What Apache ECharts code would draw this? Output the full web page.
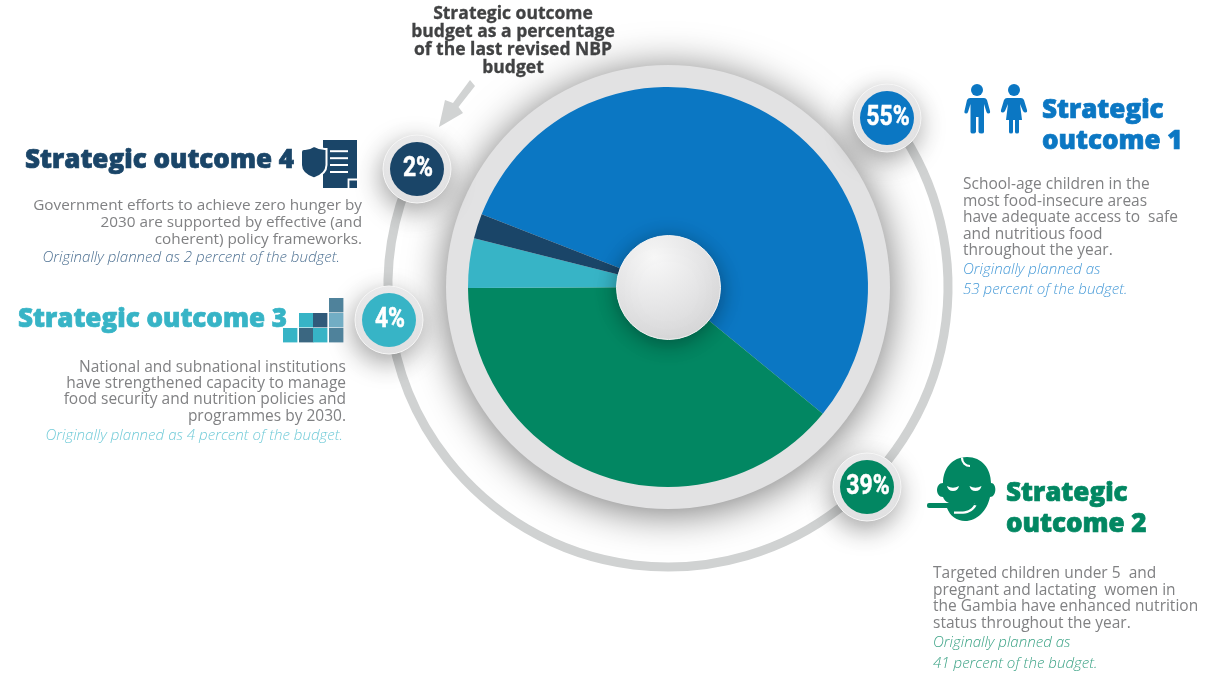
<!DOCTYPE html>
<html>
<head>
<meta charset="utf-8">
<style>html,body{margin:0;padding:0;background:#fff}#chart{width:1208px;height:675px}</style>
<script src="https://cdn.jsdelivr.net/npm/echarts@6/dist/echarts.min.js"></script>
</head>
<body>
<div id="chart"></div>
<script>
// Budget shares by strategic outcome, in percent of the last revised NBP budget
const categories = ['Strategic outcome 1', 'Strategic outcome 2', 'Strategic outcome 3', 'Strategic outcome 4'];
const budgetShares = [55, 39, 4, 2];
const plannedShares = [53, 41, 4, 2];
const outcomeColors = ['#0b77c3', '#028762', '#37b4c6', '#1a4568'];
const plannedColors = ['#4a9cd8', '#3ea487', '#72cbd8', '#4f7293'];

const titleLines = ['Strategic outcome', 'budget as a percentage', 'of the last revised NBP', 'budget'];
const body1 = ['School-age children in the', 'most food-insecure areas', 'have adequate access to  safe', 'and nutritious food', 'throughout the year.'];
const body2 = ['Targeted children under 5  and', 'pregnant and lactating  women in', 'the Gambia have enhanced nutrition', 'status throughout the year.'];
const body3 = ['National and subnational institutions', 'have strengthened capacity to manage', 'food security and nutrition policies and', 'programmes by 2030.'];
const body4 = ['Government efforts to achieve zero hunger by', '2030 are supported by effective (and', 'coherent) policy frameworks.'];

const CX = 668, CY = 287;
const chart = echarts.init(document.getElementById('chart'), null, {renderer: 'canvas'});
const deg = d => d * Math.PI / 180;

// Custom outline shapes for the outcome icons
function shape(name, d) { echarts.graphic.registerShape(name, echarts.graphic.extendPath(d, {})); }
shape('boyBody', 'M970 98 H984 Q986 98 987 100 L990 111 Q990.5 113.5 988.5 113.5 Q987 113.5 986.5 112 L984 104 V132 Q984 133.5 981.5 133.5 Q979 133.5 978.5 132 V117 H976 V132 Q975.5 133.5 973 133.5 Q970.5 133.5 970.5 132 V104 L968 112 Q967.5 113.5 966 113.5 Q964 113.5 964.5 111 L967 100 Q968 98 970 98Z');
shape('girlBody', 'M1007 98 H1021 Q1023 98 1024 100 L1027 110 Q1027.5 112.5 1025.5 112.5 Q1024 112.5 1023 111 L1020 104 L1022 120 H1019 V132 Q1019 133.5 1017 133.5 Q1015 133.5 1015 132 V120 H1013 V132 Q1013 133.5 1011 133.5 Q1009 133.5 1009 132 V120 H1006 L1008 104 L1005 111 Q1004 112.5 1002.5 112.5 Q1000.5 112.5 1001 110 L1004 100 Q1005 98 1007 98Z');
shape('babyHead', 'M967 457 C982 457 991 469 991 483 C997 483 997 497 990 497 C987 511 977 521 965 521 C957 521 950 516 947 508 L975 508 L975 503 L949 503 C946 502 944 500 943 497 C935 497 935 483 943 483 C943 469 952 457 967 457Z');
shape('babyHook', 'M954 511.5 L961 511.5 C966 511.5 971 510 974 505 L976.5 505.5 C973 512 967 513.8 961 513.8 L954 513.8 Z');
shape('eyeCurve', 'M0 0 Q6 3.5 12 0 Q11 5 6 5 Q1 5 0 0Z');
shape('shield', 'M314 146 Q320 149.5 326.5 149 V165 Q326.5 174 314 178.5 Q301 174 301 165 V152 Q301 149 304 149 Q309 149.5 314 146Z');

const texts = [];
function addText(text, x, y, font, fill, align, extra) {
  const style = {text, x: 0, y: 0, font, fill, textAlign: align || 'left', align: align || 'left', textVerticalAlign: 'middle', verticalAlign: 'middle'};
  Object.assign(style, (extra && extra.style) || {});
  texts.push({type: 'text', z: 20, x, y: y + 1.6, scaleX: (extra && extra.scaleX) || 1, style});
}
const HEAD = '800 26px "Open Sans"';
const HEAD_STROKE = c => ({style: {stroke: c, lineWidth: 0.7}});
const BODY = '400 15.5px "Open Sans"';
const ITALIC = 'italic 300 15.1px "Open Sans"';
const BODY_FILL = '#808183';

titleLines.forEach((t, i) => addText(t, 513, 12 + i * 18, '700 17.5px "Open Sans"', '#414243', 'center', {style: {stroke: '#414243', lineWidth: 0.3}}));

// Outcome 1 block
addText('Strategic', 1042, 109, HEAD, outcomeColors[0], 'left', HEAD_STROKE(outcomeColors[0]));
addText('outcome 1', 1042, 140, HEAD, outcomeColors[0], 'left', HEAD_STROKE(outcomeColors[0]));
body1.forEach((t, i) => addText(t, 963, 183 + i * 16.5, BODY, BODY_FILL));
addText('Originally planned as', 963, 268, ITALIC, plannedColors[0]);
addText(plannedShares[0] + ' percent of the budget.', 963, 288, ITALIC, plannedColors[0]);

// Outcome 2 block
addText('Strategic', 1006, 492, HEAD, outcomeColors[1], 'left', HEAD_STROKE(outcomeColors[1]));
addText('outcome 2', 1006, 523, HEAD, outcomeColors[1], 'left', HEAD_STROKE(outcomeColors[1]));
body2.forEach((t, i) => addText(t, 933, 572 + i * 16.6, BODY, BODY_FILL));
addText('Originally planned as', 933, 641, ITALIC, plannedColors[1]);
addText(plannedShares[1] + ' percent of the budget.', 933, 662, ITALIC, plannedColors[1]);

// Outcome 3 block
addText(categories[2], 287, 318, HEAD, outcomeColors[2], 'right', HEAD_STROKE(outcomeColors[2]));
body3.forEach((t, i) => addText(t, 346, 365.5 + i * 16.4, BODY, BODY_FILL, 'right'));
addText('Originally planned as ' + plannedShares[2] + ' percent of the budget.', 343, 434, ITALIC, plannedColors[2], 'right');

// Outcome 4 block
addText(categories[3], 294, 159, HEAD, outcomeColors[3], 'right', HEAD_STROKE(outcomeColors[3]));
body4.forEach((t, i) => addText(t, 362, 204 + i * 16.8, '400 15.3px "Open Sans"', BODY_FILL, 'right'));
addText('Originally planned as ' + plannedShares[3] + ' percent of the budget.', 340, 256, ITALIC, plannedColors[3], 'right');

// Percentage badges sitting on the thin outer arc
const badgeCentres = [[887, 118], [867, 487], [389, 320], [417, 169]];
const badges = [];
budgetShares.forEach((v, i) => {
  const [x, y] = badgeCentres[i];
  badges.push({type: 'circle', z: 10, shape: {cx: x, cy: y, r: 34}, style: {
    fill: new echarts.graphic.LinearGradient(0, 0, 0, 1, [{offset: 0, color: '#ebebec'}, {offset: 1, color: '#e2e2e3'}]),
    stroke: '#f6f6f6', lineWidth: 1, shadowBlur: 26, shadowOffsetY: 8, shadowOffsetX: -2, shadowColor: 'rgba(0,0,0,0.36)'}});
  badges.push({type: 'circle', z: 11, shape: {cx: x, cy: y, r: 27}, style: {fill: outcomeColors[i]}});
  addText(v + '%', x + 1, y - 2, '700 28px Roboto', '#ffffff', 'center', {scaleX: 0.82, style: {stroke: '#ffffff', lineWidth: 0.5}});
});

// Icon artwork
const ic1 = outcomeColors[0], ic2 = outcomeColors[1], ic3 = outcomeColors[2], ic4 = outcomeColors[3];
const icons = [
  {type: 'circle', z: 12, shape: {cx: 977, cy: 90, r: 6}, style: {fill: ic1}},
  {type: 'circle', z: 12, shape: {cx: 1014, cy: 90, r: 6}, style: {fill: ic1}},
  {type: 'boyBody', z: 12, style: {fill: ic1}},
  {type: 'girlBody', z: 12, style: {fill: ic1}},
  // baby
  {type: 'babyHead', z: 12, style: {fill: ic2}},
  {type: 'rect', z: 13, shape: {x: 927, y: 503, width: 49, height: 5, r: 2}, style: {fill: ic2}},
  {type: 'babyHook', z: 13, style: {fill: '#ffffff'}},
  {type: 'arc', z: 13, shape: {cx: 970, cy: 458, r: 8, startAngle: deg(90), endAngle: deg(185), clockwise: true}, style: {stroke: '#fff', lineWidth: 2.2, fill: null}},
  {type: 'eyeCurve', z: 13, x: 947, y: 486, style: {fill: '#fff'}},
  {type: 'eyeCurve', z: 13, x: 969.5, y: 486, style: {fill: '#fff'}},
  // document and shield
  {type: 'rect', z: 12, shape: {x: 323, y: 140, width: 34, height: 48}, style: {fill: ic4}},
  {type: 'rect', z: 13, shape: {x: 330, y: 150.2, width: 18, height: 2}, style: {fill: '#fff'}},
  {type: 'rect', z: 13, shape: {x: 330, y: 157.2, width: 18, height: 2}, style: {fill: '#fff'}},
  {type: 'rect', z: 13, shape: {x: 330, y: 164, width: 18, height: 2}, style: {fill: '#fff'}},
  {type: 'rect', z: 13, shape: {x: 330, y: 171, width: 18, height: 2}, style: {fill: '#fff'}},
  {type: 'polyline', z: 13, shape: {points: [[348.5, 188], [348.5, 179.5], [357, 179.5]]}, style: {stroke: '#fff', lineWidth: 1.8, fill: null}},
  {type: 'shield', z: 14, style: {fill: ic4, stroke: '#fff', lineWidth: 2}},
];
[[329, 298, '#4f829b'], [299, 313, ic3], [313, 313, '#305a7a'], [329, 313, '#72adc4'],
 [283, 328, ic3], [299, 328, '#3b6781'], [313, 328, ic3], [329, 328, '#4f829b']].forEach(t => {
  icons.push({type: 'rect', z: 12, shape: {x: t[0], y: t[1], width: 14.4, height: 14.4}, style: {fill: t[2]}});
});

// Pointer from the caption to the first badge
const pointer = {type: 'polygon', z: 5, shape: {points: [[470, 80], [475, 86], [458.5, 107], [463, 113], [439, 127], [445, 100], [453, 103]]}, style: {fill: '#d1d3d3'}};

// Thin arc that links the badges around the pie
const orbit = {type: 'arc', z: 0, shape: {cx: CX, cy: CY, r: 280, startAngle: deg(-38), endAngle: deg(205), clockwise: true}, style: {stroke: '#d0d2d2', lineWidth: 9, fill: null}};

const option = {
  animation: false,
  backgroundColor: '#ffffff',
  graphic: {elements: [orbit, pointer, ...badges, ...icons, ...texts]},
  series: [
    {
      // pale ring behind the pie
      type: 'pie', silent: true, z: 2, center: [CX, CY], radius: [0, 222], label: {show: false}, labelLine: {show: false},
      data: [{value: 1, itemStyle: {color: '#e2e2e3', shadowBlur: 40, shadowOffsetY: 4, shadowColor: 'rgba(0,0,0,0.55)'}}]
    },
    {
      type: 'pie', silent: true, z: 3, center: [CX, CY], radius: [0, 200], startAngle: 158.7, clockwise: true, label: {show: false}, labelLine: {show: false},
      itemStyle: {borderWidth: 0},
      data: categories.map((name, i) => ({name, value: budgetShares[i], itemStyle: {color: outcomeColors[i]}}))
    },
    {
      // glossy sphere at the centre
      type: 'pie', silent: true, z: 4, center: [CX + 0.5, CY + 0.5], radius: [0, 52], label: {show: false}, labelLine: {show: false},
      data: [{value: 1, itemStyle: {
        color: new echarts.graphic.RadialGradient(0.36, 0.2, 0.95, [{offset: 0, color: '#f8f8f8'}, {offset: 0.5, color: '#e6e6e7'}, {offset: 1, color: '#d3d3d4'}]),
        borderColor: '#f4f4f4', borderWidth: 1, shadowBlur: 22, shadowOffsetY: 4, shadowColor: 'rgba(0,0,0,0.36)'
      }}]
    }
  ]
};
chart.setOption(option);
</script>
</body>
</html>
